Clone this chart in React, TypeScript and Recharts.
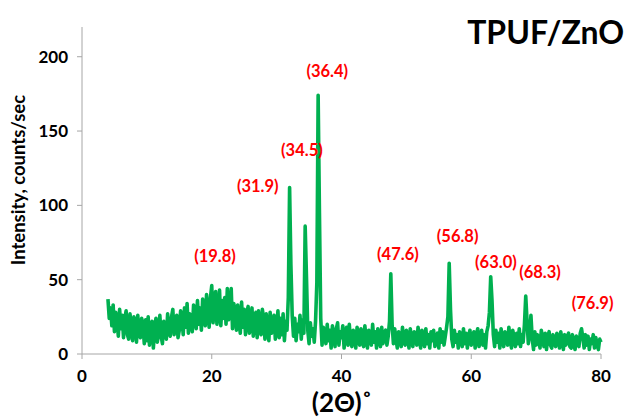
import React from 'react';
import { LineChart, Line, XAxis, YAxis, ReferenceDot } from 'recharts';

// XRD scan, 2θ from 4° to 80° sampled every 0.2°
const startAngle = 4;
const stepAngle = 0.2;

const intensity: number[] = [
	37, 24, 31, 19, 33, // 4
	15, 28, 22, 12, 30, // 5
	17, 26, 11, 24, 29, // 6
	13, 10, 27, 18, 9, // 7
	25, 21, 8, 26, 14, // 8
	11, 24, 19, 7, 23, // 9
	9, 25, 6, 20, 22, // 10
	4, 18, 24, 8, 13, // 11
	26, 12, 7, 22, 19, // 12
	10, 27, 15, 12, 25, // 13
	30, 13, 21, 26, 11, // 14
	16, 29, 24, 13, 31, // 15
	18, 34, 14, 27, 22, // 16
	15, 33, 29, 17, 36, // 17
	20, 31, 16, 37, 25, // 18
	19, 40, 28, 18, 38, // 19
	46, 21, 35, 42, 20, // 20
	27, 43, 19, 36, 24, // 21
	38, 20, 44, 23, 31, // 22
	44, 17, 34, 28, 16, // 23
	33, 21, 14, 35, 18, // 24
	30, 13, 27, 32, 14, // 25
	19, 31, 12, 25, 28, // 26
	11, 29, 16, 13, 30, // 27
	24, 10, 27, 18, 9, // 28
	28, 14, 22, 26, 10, // 29
	17, 29, 11, 24, 13, // 30
	27, 9, 22, 16, 38, // 31
	112, 60, 26, 12, 24, // 32
	9, 20, 15, 26, 10, // 33
	23, 14, 86, 52, 16, // 34
	7, 21, 12, 17, 8, // 35
	22, 48, 174, 95, 24, // 36
	6, 18, 12, 7, 20, // 37
	9, 16, 4, 19, 13, // 38
	5, 17, 21, 6, 15, // 39
	11, 19, 4, 14, 18, // 40
	6, 20, 9, 5, 16, // 41
	14, 4, 18, 12, 6, // 42
	17, 8, 5, 19, 10, // 43
	4, 16, 13, 6, 20, // 44
	8, 15, 4, 17, 11, // 45
	5, 18, 7, 14, 16, // 46
	6, 12, 22, 54, 20, // 47
	7, 17, 10, 4, 15, // 48
	13, 5, 18, 8, 6, // 49
	16, 11, 4, 17, 9, // 50
	5, 15, 14, 6, 18, // 51
	10, 4, 16, 12, 5, // 52
	17, 7, 13, 4, 15, // 53
	9, 16, 5, 11, 14, // 54
	4, 17, 8, 15, 6, // 55
	12, 18, 25, 61, 30, // 56
	10, 5, 16, 8, 13, // 57
	4, 15, 11, 5, 17, // 58
	7, 14, 4, 12, 16, // 59
	6, 10, 15, 4, 13, // 60
	17, 5, 9, 16, 6, // 61
	13, 4, 15, 19, 28, // 62
	52, 36, 13, 5, 16, // 63
	8, 14, 4, 17, 10, // 64
	5, 15, 12, 6, 18, // 65
	9, 4, 16, 11, 5, // 66
	14, 7, 17, 5, 13, // 67
	8, 20, 39, 22, 7, // 68
	14, 26, 10, 3, 15, // 69
	6, 13, 9, 4, 16, // 70
	11, 5, 14, 3, 12, // 71
	15, 6, 4, 13, 8, // 72
	5, 14, 11, 4, 15, // 73
	9, 3, 13, 6, 12, // 74
	14, 5, 4, 13, 7, // 75
	3, 12, 9, 5, 14, // 76
	17, 11, 4, 13, 6, // 77
	12, 3, 10, 7, 13, // 78
	4, 11, 6, 3, 10, // 79
	8, // 80
];

const xTicks = [0, 20, 40, 60, 80];
const yTicks = [0, 50, 100, 150, 200];

// peak annotations, placed in data coordinates
const peakLabels = ['(19.8)', '(31.9)', '(34.5)', '(36.4)', '(47.6)', '(56.8)', '(63.0)', '(68.3)', '(76.9)'];
const labelX = [20.5, 27.1, 33.9, 37.8, 48.7, 57.9, 63.8, 70.6, 78.7];
const labelY = [66, 113, 137, 190, 67, 79, 62, 55, 34];

const data = intensity.map((v, i) => ({
	angle: +(startAngle + i * stepAngle).toFixed(1),
	counts: v,
}));

const font = 'Lato, "Open Sans", sans-serif';
const axisColor = '#a6a6a6';

export default function App() {
	return (
		<div style={{ position: 'absolute', left: 0, top: 0, width: 630, height: 417, background: '#fff', fontFamily: font }}>
			<LineChart width={630} height={417} data={data} margin={{ top: 27, right: 29, bottom: 23, left: 22 }}>
				<XAxis
					dataKey="angle"
					type="number"
					domain={[0, 80]}
					ticks={xTicks}
					tickSize={5}
					tickMargin={11}
					stroke={axisColor}
					height={40}
					tick={{ fill: '#000', fontSize: 17, fontWeight: 700, fontFamily: font }}
				/>
				<YAxis
					type="number"
					domain={[0, 220]}
					ticks={yTicks}
					tickSize={5}
					tickMargin={9}
					width={60}
					stroke={axisColor}
					tick={{ fill: '#000', fontSize: 17, fontWeight: 700, fontFamily: font }}
				/>
				<Line
					type="linear"
					dataKey="counts"
					stroke="#00b050"
					strokeWidth={3.6}
					dot={false}
					strokeLinejoin="round"
					isAnimationActive={false}
				/>
				{peakLabels.map((t, i) => (
					<ReferenceDot
						key={t}
						x={labelX[i]}
						y={labelY[i]}
						r={0}
						ifOverflow="visible"
						label={{ value: t, position: 'center', fill: '#ff0000', fontSize: 16.5, fontWeight: 700, fontFamily: font }}
					/>
				))}
			</LineChart>
			<div style={{ position: 'absolute', right: 6, top: 12, fontSize: 32, fontWeight: 700, color: '#000' }}>TPUF/ZnO</div>
			<div
				style={{
					position: 'absolute',
					left: 18,
					top: 180,
					transform: 'translate(-50%, -50%) rotate(-90deg)',
					whiteSpace: 'nowrap',
					fontSize: 18.5,
					fontWeight: 700,
				}}
			>
				Intensity, counts/sec
			</div>
			<div style={{ position: 'absolute', left: 342, top: 402, transform: 'translate(-50%, -50%)', fontSize: 26, fontWeight: 700 }}>
				(2Θ)˚
			</div>
		</div>
	);
}
